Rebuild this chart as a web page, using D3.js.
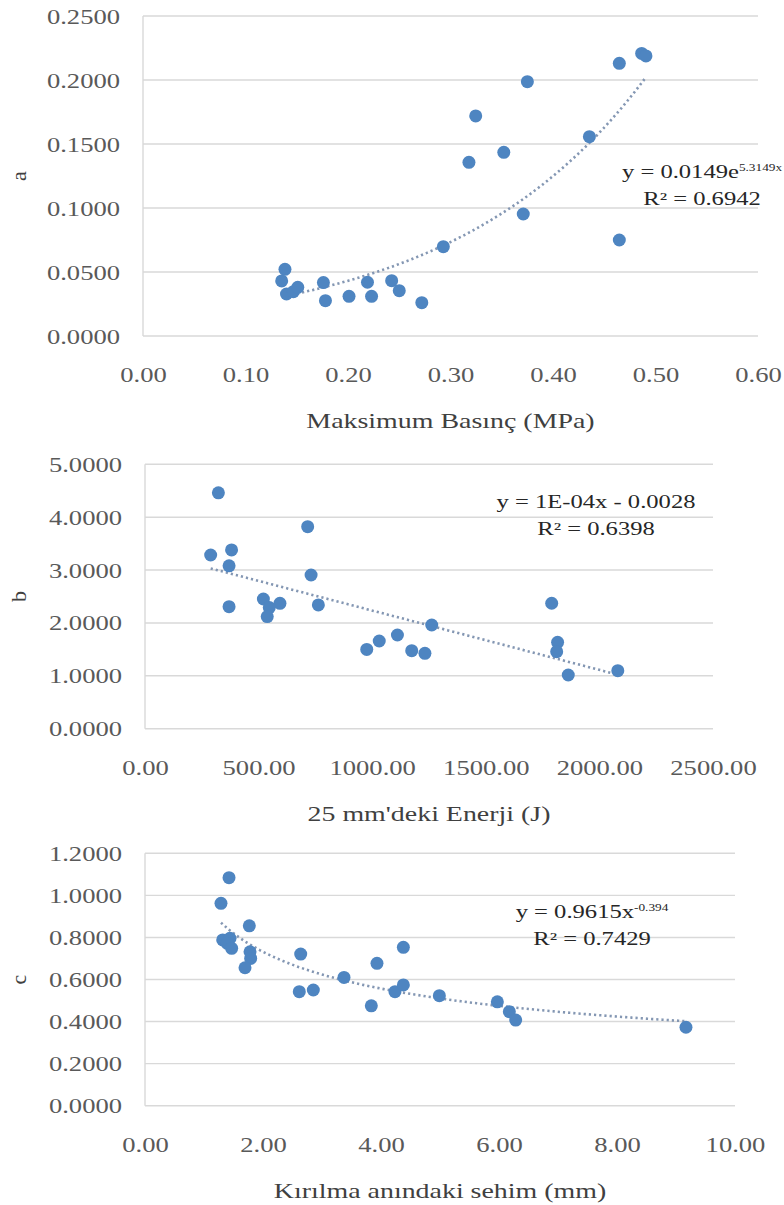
<!DOCTYPE html>
<html>
<head>
<meta charset="utf-8">
<script src="https://cdnjs.cloudflare.com/ajax/libs/d3/7.8.5/d3.min.js"></script>
<style>
  html, body { margin: 0; padding: 0; background: #fff; }
  svg { display: block; }
</style>
</head>
<body>
<svg id="chart"></svg>
<script>
// panel a: Maksimum Basınç (MPa) vs a
const aX = [0.1385, 0.1353, 0.140, 0.1467, 0.151, 0.176, 0.178, 0.201, 0.219, 0.223, 0.2426, 0.250,
            0.272, 0.293, 0.318, 0.3246, 0.352, 0.371, 0.375, 0.4355, 0.4647, 0.4647, 0.4865, 0.4907];
const aY = [0.0521, 0.0430, 0.0328, 0.0346, 0.0380, 0.0417, 0.0276, 0.0310, 0.0420, 0.0310, 0.0432, 0.0354,
            0.0260, 0.0698, 0.1357, 0.1719, 0.1435, 0.0953, 0.1987, 0.1557, 0.2130, 0.0750, 0.2208, 0.2188];
const aXTicks = [0, 0.1, 0.2, 0.3, 0.4, 0.5, 0.6];
const aYTicks = [0, 0.05, 0.10, 0.15, 0.20, 0.25];
// exponential trend shown on chart: y = 0.0149 e^(5.3149x)
const aCoef = [0.0149, 5.3149];

// panel b: 25 mm'deki Enerji (J) vs b
const bX = [323, 289, 381, 370, 370, 716, 731, 521, 594, 547, 538, 763,
            976, 1031, 1111, 1174, 1232, 1262, 1790, 1816, 1812, 1863, 2081];
const bY = [4.46, 3.285, 3.38, 3.08, 2.307, 3.82, 2.907, 2.453, 2.37, 2.29, 2.12, 2.34,
            1.50, 1.658, 1.772, 1.476, 1.426, 1.961, 2.372, 1.633, 1.457, 1.015, 1.097];
const bXTicks = [0, 500, 1000, 1500, 2000, 2500];
const bYTicks = [0, 1, 2, 3, 4, 5];

// panel c: Kırılma anındaki sehim (mm) vs c
const cX = [1.424, 1.288, 1.768, 1.317, 1.441, 1.395, 1.469, 1.780, 1.791, 1.695, 2.639, 2.615,
            2.853, 3.373, 3.836, 3.932, 4.379, 4.237, 4.379, 4.989, 5.972, 6.175, 6.283, 9.169];
const cY = [1.084, 0.962, 0.855, 0.788, 0.796, 0.772, 0.748, 0.732, 0.700, 0.656, 0.721, 0.542,
            0.550, 0.610, 0.475, 0.677, 0.753, 0.542, 0.574, 0.523, 0.494, 0.447, 0.407, 0.373];
const cXTicks = [0, 2, 4, 6, 8, 10];
const cYTicks = [0, 0.2, 0.4, 0.6, 0.8, 1.0, 1.2];
// power trend shown on chart: y = 0.9615 x^-0.394
const cCoef = [0.9615, -0.394];

const W = 784, H = 1205;
const S = 1.33; // the source picture is stretched sideways, so text is too
const FONT = "'Liberation Serif', 'DejaVu Serif', serif";
const DOT = "#4e85c1";
const TREND = "#8497b3";

const svg = d3.select('#chart').attr('width', W).attr('height', H);
svg.append('rect').attr('width', W).attr('height', H).attr('fill', '#fff');

// linear least squares, used for the b panel trend
function linFit(xs, ys) {
  const mx = d3.mean(xs), my = d3.mean(ys);
  let sxy = 0, sxx = 0;
  xs.forEach(function (v, i) {
    sxy += (v - mx) * (ys[i] - my);
    sxx += (v - mx) * (v - mx);
  });
  const k = sxy / sxx;
  return function (v) { return my + k * (v - mx); };
}

function drawPanel(p) {
  const x = d3.scaleLinear().domain(d3.extent(p.xTicks)).range([p.left, p.right]);
  const y = d3.scaleLinear().domain(d3.extent(p.yTicks)).range([p.bottom, p.top]);
  const g = svg.append('g');

  // gridlines
  g.append('g').selectAll('line').data(p.yTicks).join('line')
    .attr('x1', p.left).attr('x2', p.right)
    .attr('y1', function (d) { return y(d); }).attr('y2', function (d) { return y(d); })
    .attr('stroke', '#d9d9d9').attr('stroke-width', 1.4);
  g.append('line')
    .attr('x1', p.left).attr('x2', p.left).attr('y1', p.top).attr('y2', p.bottom)
    .attr('stroke', '#d9d9d9').attr('stroke-width', 1.4);

  // y axis
  const ya = g.append('g').attr('transform', 'translate(' + p.left + ',0)')
    .call(d3.axisLeft(y).tickValues(p.yTicks).tickFormat(d3.format('.4f')).tickSize(0));
  ya.select('.domain').remove();
  ya.attr('font-family', FONT).attr('font-size', 20);
  ya.selectAll('text')
    .attr('x', -23 / S).attr('dy', '0.35em')
    .attr('transform', 'scale(' + S + ',1)')
    .attr('fill', '#595959');

  // x axis
  const xa = g.append('g').attr('transform', 'translate(0,' + p.bottom + ')')
    .call(d3.axisBottom(x).tickValues(p.xTicks).tickFormat(d3.format('.2f')).tickSize(0));
  xa.select('.domain').remove();
  xa.attr('font-family', FONT).attr('font-size', 20);
  xa.selectAll('text')
    .attr('y', 46).attr('dy', 0)
    .attr('transform', 'scale(' + S + ',1)')
    .attr('fill', '#595959');

  // axis titles
  g.append('text')
    .attr('transform', 'translate(' + ((p.left + p.right) / 2) + ',' + (p.bottom + 92) + ') scale(' + S + ',1)')
    .attr('text-anchor', 'middle')
    .attr('font-family', FONT).attr('font-size', 21).attr('fill', '#404040')
    .text(p.xTitle);
  g.append('text')
    .attr('transform', 'translate(26,' + ((p.top + p.bottom) / 2) + ') rotate(-90)')
    .attr('text-anchor', 'middle')
    .attr('font-family', FONT).attr('font-size', 22).attr('fill', '#404040')
    .text(p.yTitle);

  // trend line
  const ext = d3.extent(p.xs);
  const steps = d3.range(0, 61).map(function (i) { return ext[0] + (ext[1] - ext[0]) * i / 60; });
  g.append('path')
    .datum(steps)
    .attr('d', d3.line().x(function (d) { return x(d); }).y(function (d) { return y(p.trend(d)); }))
    .attr('fill', 'none').attr('stroke', TREND).attr('stroke-width', 2.6)
    .attr('stroke-dasharray', '2.2,3');

  // points
  g.append('g').selectAll('circle').data(p.xs).join('circle')
    .attr('cx', function (d) { return x(d); })
    .attr('cy', function (d, i) { return y(p.ys[i]); })
    .attr('r', 6.5)
    .attr('fill', DOT);

  // equation label
  const eq = g.append('g')
    .attr('transform', 'translate(' + p.eqX + ',' + p.eqY + ') scale(' + S + ',1)')
    .attr('font-family', FONT).attr('fill', '#262626').attr('text-anchor', 'middle');
  const t1 = eq.append('text').attr('font-size', 18.5);
  t1.append('tspan').text(p.eq[0]);
  if (p.eq[1]) t1.append('tspan').attr('font-size', 10).attr('dy', -7).text(p.eq[1]);
  eq.append('text').attr('y', 27).attr('font-size', 18.5).text(p.r2);
}

drawPanel({
  xs: aX, ys: aY, xTicks: aXTicks, yTicks: aYTicks,
  left: 143, right: 758, top: 16, bottom: 336,
  xTitle: 'Maksimum Basınç (MPa)', yTitle: 'a',
  trend: function (v) { return aCoef[0] * Math.exp(aCoef[1] * v); },
  eq: ['y = 0.0149e', '5.3149x'], r2: 'R² = 0.6942',
  eqX: 702, eqY: 178
});

drawPanel({
  xs: bX, ys: bY, xTicks: bXTicks, yTicks: bYTicks,
  left: 145, right: 713, top: 464.3, bottom: 728.7,
  xTitle: "25 mm'deki Enerji (J)", yTitle: 'b',
  trend: linFit(bX, bY),
  eq: ['y = 1E-04x - 0.0028'], r2: 'R² = 0.6398',
  eqX: 596, eqY: 508
});

drawPanel({
  xs: cX, ys: cY, xTicks: cXTicks, yTicks: cYTicks,
  left: 145, right: 735, top: 853.3, bottom: 1105.7,
  xTitle: 'Kırılma anındaki sehim (mm)', yTitle: 'c',
  trend: function (v) { return cCoef[0] * Math.pow(v, cCoef[1]); },
  eq: ['y = 0.9615x', '-0.394'], r2: 'R² = 0.7429',
  eqX: 592, eqY: 918
});
</script>
</body>
</html>
